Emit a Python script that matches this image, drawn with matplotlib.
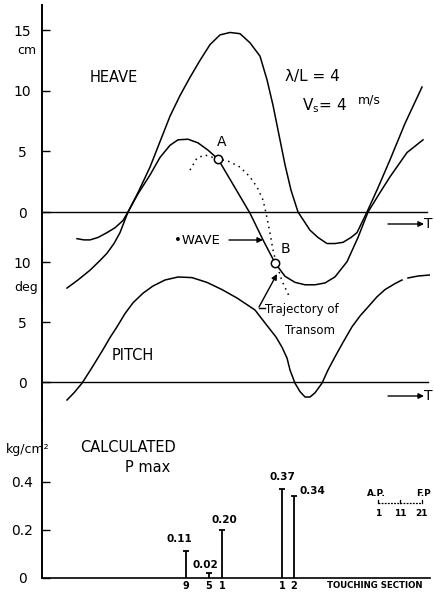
import matplotlib
matplotlib.use("Agg")
import matplotlib.pyplot as plt
from matplotlib.transforms import Affine2D
from matplotlib.lines import Line2D

plt.rcParams['font.family'] = ['DejaVu Sans']
plt.rcParams['mathtext.fontset'] = 'dejavusans'

W, H = 435, 592

# time runs left to right, no scale given on the original (arbitrary units)
t_heave = [35, 42, 48, 56, 65, 73, 81, 86, 96, 108, 118, 128, 138, 148, 158, 168, 178, 188, 198, 208,
           218, 225, 231, 237, 243, 249, 256, 268, 276, 285, 293, 301, 309, 315, 325, 336, 348, 363, 380]
heave = [-2.2, -2.3, -2.3, -2.1, -1.7, -1.3, -0.7, 0.0, 1.6, 3.7, 5.8, 7.9, 9.6, 11.1, 12.5, 13.8, 14.6, 14.8, 14.7, 13.95,
         12.85, 10.9, 8.8, 6.35, 3.9, 1.8, 0.0, -1.5, -2.1, -2.6, -2.6, -2.5, -2.1, -1.7, 0.0, 2.0, 4.3, 7.3, 10.3]

t_wave = [25, 36, 48, 58, 65, 72, 78, 86, 96, 108, 118, 128, 136, 146, 156, 166, 176, 193, 208, 221,
          233, 243, 253, 263, 273, 283, 293, 305, 316, 326, 338, 348, 365, 381]
wave = [-6.27, -5.6, -4.8, -4.0, -3.4, -2.6, -1.7, 0.0, 1.5, 3.05, 4.5, 5.5, 5.95, 6.0, 5.7, 5.1, 4.37, 2.0, -0.1, -2.3,
        -4.2, -5.3, -5.8, -6.0, -6.0, -5.85, -5.35, -4.1, -2.1, 0.0, 1.6, 2.9, 4.9, 5.95]

# trajectory of transom (cm)
t_traj = [148, 155, 163, 176, 186, 198, 208, 215, 221, 224, 228, 231, 234, 240, 247]
traj = [3.46, 4.45, 4.7, 4.37, 4.2, 3.71, 2.89, 2.06, 0.99, -0.08, -1.73, -3.13, -4.12, -5.69, -6.92]

point_A = (176, 4.37)
point_B = (233, -4.2)

t_pitch = [25, 32, 40, 50, 61, 68, 75, 83, 91, 101, 111, 123, 136, 150, 165, 180, 195, 213, 226, 234,
           240, 245, 248, 253, 258, 263, 268, 273, 280, 286, 293, 301, 310, 318, 326, 335, 343, 353, 360]
pitch = [-1.5, -0.9, -0.1, 1.2, 2.7, 3.7, 4.6, 5.7, 6.6, 7.4, 8.0, 8.5, 8.75, 8.7, 8.3, 7.7, 7.0, 6.0, 4.6, 3.75,
         2.9, 2.0, 1.0, -0.1, -0.8, -1.25, -1.25, -0.9, -0.1, 1.0, 2.1, 3.3, 4.6, 5.5, 6.25, 7.1, 7.7, 8.2, 8.5]
t_pitch_end = [366, 376, 388]
pitch_end = [8.67, 8.83, 8.92]

# calculated max pressure at touching sections
t_touch = [144, 167, 180, 240, 252]
p_max = [0.11, 0.02, 0.20, 0.37, 0.34]
p_labels = ['0.11', '0.02', '0.20', '0.37', '0.34']
sections = ['9', '5', '1', '1', '2']

fig = plt.figure(figsize=(W / 100, H / 100), dpi=100)
# pixel coordinates, origin top-left
px = Affine2D().scale(1 / W, -1 / H).translate(0, 1) + fig.transFigure


def box(top, bottom):
    return [42 / W, 1 - bottom / H, 388 / W, (bottom - top) / H]


ax1 = fig.add_axes(box(5, 300))
ax2 = fig.add_axes(box(250, 420))
ax3 = fig.add_axes(box(420, 577.5))

for ax in (ax1, ax2, ax3):
    ax.set_facecolor('none')
    for s in ('top', 'right', 'bottom'):
        ax.spines[s].set_visible(False)
    ax.spines['left'].set_linewidth(1.4)
    ax.set_xlim(0, 388)
    ax.set_xticks([])
    ax.tick_params(axis='y', direction='in', length=6, width=1.0, pad=14, labelsize=10)

ax3.spines['bottom'].set_visible(True)
ax3.spines['bottom'].set_linewidth(1.2)

lw = 1.1

# heave
ax1.set_ylim((212 - 300) / 12.13, (212 - 5) / 12.13)
ax1.set_yticks([0, 5, 10, 15])
ax1.axhline(0, color='k', lw=1.0, xmax=385 / 388)
ax1.plot(t_heave, heave, color='k', lw=lw)
ax1.plot(t_wave, wave, color='k', lw=lw)
ax1.plot(t_traj, traj, color='k', lw=1.1, ls=(0, (1, 2.8)))
ax1.plot(*point_A, marker='o', ms=6, mfc='white', mec='k', mew=1.1)
ax1.plot(*point_B, marker='o', ms=6, mfc='white', mec='k', mew=1.1)

# pitch
ax2.set_ylim((382 - 420) / 12, (382 - 250) / 12)
ax2.set_yticks([0, 5, 10])
ax2.axhline(0, color='k', lw=1.0, xmax=386 / 388)
ax2.plot(t_pitch, pitch, color='k', lw=lw)
ax2.plot(t_pitch_end, pitch_end, color='k', lw=lw)

# pressure
ax3.set_ylim(0, 157.5 / 240)
ax3.set_yticks([0, 0.2, 0.4])
ax3.set_yticklabels(['0', '0.2', '0.4'])
ax3.vlines(t_touch, 0, p_max, color='k', lw=1.3)
ax3.plot(t_touch, p_max, ls='none', marker='_', ms=4, mew=1.3, color='k')
offsets = [(-5, 5), (-2.5, 2), (1.5, 3), (0, 5), (13, 0)]
for t, p, lab, (dx, dy) in zip(t_touch, p_max, p_labels, offsets):
    ax3.annotate(lab, (t, p), xytext=(dx, dy), textcoords='offset points',
                 ha='center', va='bottom', fontsize=7.5, fontweight='bold')
for t, s in zip(t_touch, sections):
    ax3.annotate(s, (t, 0), xytext=(0, -6), textcoords='offset points',
                 ha='center', va='center', fontsize=7, fontweight='bold', annotation_clip=False)

for ax in (ax1, ax2, ax3):
    for lab in ax.get_yticklabels():
        lab.set_ha('center')

# texts
fig.text(27, 50, 'cm', transform=px, ha='center', va='center', fontsize=9)
fig.text(26, 287, 'deg', transform=px, ha='center', va='center', fontsize=9)
fig.text(6, 450, 'kg/cm²', transform=px, ha='left', va='center', fontsize=9)
fig.text(90, 77, 'HEAVE', transform=px, ha='left', va='center', fontsize=10.5)
fig.text(285, 77, 'λ/L = 4', transform=px, ha='left', va='center', fontsize=11)
fig.text(302, 106, r'V$_{\rm s}$= 4', transform=px, ha='left', va='center', fontsize=11)
fig.text(358, 100, 'm/s', transform=px, ha='left', va='center', fontsize=9)
fig.text(112, 355, 'PITCH', transform=px, ha='left', va='center', fontsize=10.5)
fig.text(80, 448, 'CALCULATED', transform=px, ha='left', va='center', fontsize=10.5)
fig.text(125, 467, 'P max', transform=px, ha='left', va='center', fontsize=10.5)
fig.text(222, 142, 'A', transform=px, ha='center', va='center', fontsize=10)
fig.text(285, 249, 'B', transform=px, ha='center', va='center', fontsize=10)
fig.text(174, 241, '•WAVE', transform=px, ha='left', va='center', fontsize=9.5)
fig.text(265, 309, 'Trajectory of', transform=px, ha='left', va='center', fontsize=8.5)
fig.text(285, 330, 'Transom', transform=px, ha='left', va='center', fontsize=8.5)
fig.text(327, 586, 'TOUCHING SECTION', transform=px, ha='left', va='center', fontsize=6.2, fontweight='bold')

arrow = dict(arrowstyle='-|>', color='k', lw=1.0, mutation_scale=8, shrinkA=0, shrinkB=0)
fig.add_artist(plt.Annotation('', xy=(263, 240), xytext=(229, 240), xycoords=px, arrowprops=arrow))
fig.add_artist(plt.Annotation('', xy=(277, 274), xytext=(259, 307), xycoords=px, arrowprops=arrow))
fig.add_artist(Line2D([259, 265], [307.5, 307.5], transform=px, color='k', lw=1.0))
for y in (224, 396):
    fig.add_artist(plt.Annotation('', xy=(424, y), xytext=(388, y), xycoords=px, arrowprops=arrow))
    fig.text(424, y, 'T', transform=px, ha='left', va='center', fontsize=10)

# A.P. - F.P. section scale
scale_secs = [1, 11, 21]
sx = [378 + (s - 1) * 44 / 20 for s in scale_secs]
fig.add_artist(Line2D([sx[0], sx[-1]], [503, 503], transform=px, color='k', lw=0.9, ls=(0, (1.5, 1))))
for x, s in zip(sx, scale_secs):
    fig.add_artist(Line2D([x, x], [500, 503], transform=px, color='k', lw=0.9))
    fig.text(x, 514, str(s), transform=px, ha='center', va='center', fontsize=6.5, fontweight='bold')
fig.text(376, 493, 'A.P.', transform=px, ha='center', va='center', fontsize=6.5, fontweight='bold')
fig.text(424, 493, 'F.P', transform=px, ha='center', va='center', fontsize=6.5, fontweight='bold')

fig.savefig('out.png', dpi=100)
